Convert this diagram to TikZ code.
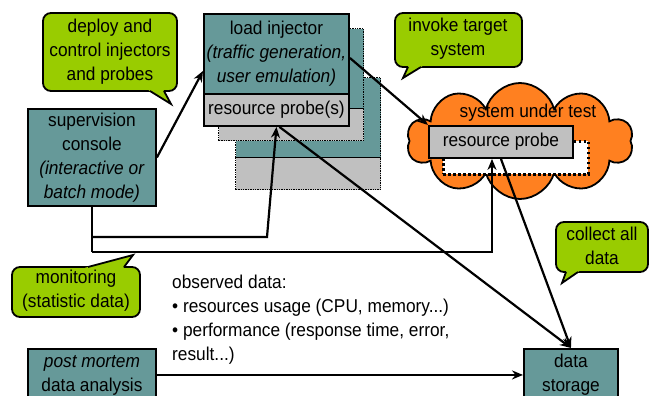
\documentclass[tikz,border=0pt]{standalone}
\usepackage{fontspec}
\setmainfont[FakeStretch=0.93]{Liberation Sans}
\usetikzlibrary{shapes.symbols,arrows.meta,calc}

\definecolor{boxteal}{RGB}{102,153,153}
\definecolor{probegray}{RGB}{192,192,192}
\definecolor{calloutgreen}{RGB}{153,204,0}
\definecolor{sutorange}{RGB}{255,128,32}

% speech bubble: #1,#2 opposite box corners, #3,#4 tail base on the box edge, #5 tail tip
\newcommand{\speechbubble}[5]{%
  \fill[calloutgreen] #3 -- #5 -- #4 -- cycle;
  \draw[bubbleedge] #1 rectangle #2;
  \fill[calloutgreen] ($#3!-3pt!#5$) -- #5 -- ($#4!-3pt!#5$) -- cycle;
  \draw[line width=1.8pt, line join=miter] #3 -- #5 -- #4;
}

\tikzset{
  every node/.style={font=\fontsize{18.6}{24}\selectfont},
  panel/.style={draw, line width=1.9pt, fill=boxteal, inner sep=0pt,
                align=center, anchor=north west},
  probebox/.style={panel, fill=probegray},
  ghost/.style={draw, densely dotted, line width=1.4pt, inner sep=0pt,
                anchor=north west},
  link/.style={line width=2.2pt, -{Stealth[length=11pt,width=9pt]}},
  wire/.style={line width=2.2pt},
  bubbleedge/.style={draw=black, fill=calloutgreen, line width=1.8pt,
                     rounded corners=8pt},
  caption/.style={align=center, inner sep=0pt},
}

\begin{document}
\begin{tikzpicture}[x=1pt, y=-1pt]
\useasboundingbox (0,0) rectangle (649,396);
\clip (0,0) rectangle (649,396);

% system under test
\node[cloud, draw, line width=1.8pt, fill=sutorange, cloud puffs=10,
      aspect=1.9, minimum width=226pt, minimum height=116pt, inner sep=0pt]
      (sut) at (520,141) {};
\node[draw, fill=white, dash pattern=on 2.5pt off 2.5pt, line width=2.8pt,
      anchor=north west, minimum width=145pt, minimum height=33pt,
      inner sep=0pt] (sutghost) at (442,140) {};
\node[probebox, minimum width=144pt, minimum height=32pt] (sutprobe)
      at (428,125) {resource probe};
\node (suttitle) at (528,113) {system under test};

% stacked load injectors
\node[ghost, fill=boxteal, minimum width=145pt, minimum height=80pt] (g2top) at (235,77) {};
\node[ghost, fill=probegray, minimum width=145pt, minimum height=32pt] (g2bot) at (235,157) {};
\node[ghost, fill=boxteal, minimum width=145pt, minimum height=80pt] (g1top) at (218,28) {};
\node[ghost, fill=probegray, minimum width=145pt, minimum height=32pt] (g1bot) at (218,108) {};
\node[panel, minimum width=145pt, minimum height=80pt] (inj) at (203,13)
      {load injector\\\textit{(traffic generation,}\\\textit{user emulation)}};
\node[probebox, minimum width=145pt, minimum height=32pt] (injprobe) at (203,93)
      {resource probe(s)};

% console, analysis and storage
\node[panel, minimum width=128pt, minimum height=97pt] (console) at (27,108)
      {supervision\\console\\\textit{(interactive or}\\\textit{batch mode)}};
\node[panel, minimum width=128pt, minimum height=52pt] (postmortem) at (27,348)
      {\textit{post mortem}\\data analysis};
\node[panel, minimum width=94pt, minimum height=52pt] (storage) at (523,348)
      {data\\storage};

\node[anchor=north west, align=left, inner sep=0pt] (observed) at (172,275)
      {observed data:\\\textbullet{} resources usage (CPU, memory...)\\
       \textbullet{} performance (response time, error,\\result...)};

% connectors
\coordinate (busA) at (console.south |- 0,237);
\coordinate (busAend) at (267,237);
\coordinate (busB) at (console.south |- 0,252);
\coordinate (sutx) at (492,0);

\draw[link] (console.east) -- ([yshift=-17pt]inj.west);
\draw[link] ([yshift=-4pt]inj.east) -- (sutprobe.north west);
\draw[wire] (console.south) -- (busB);
\draw[link] (busB) -- (busB -| sutx) -- (sutprobe.south -| sutx);
\draw[link] (busA) -- (busAend) -- (injprobe.south);
\draw[link] ([xshift=3pt]injprobe.south) -- (storage.north);
\draw[link] (sutprobe.south) -- (storage.north);
\draw[link] (postmortem.east) -- (storage.west);

% callouts
\speechbubble{(43,13)}{(177,91)}{(150,91)}{(164,91)}{(171,104)}
\node[caption] (deploy) at (110,52) {deploy and\\control injectors\\and probes};

\speechbubble{(395,13)}{(522,67)}{(408,67)}{(421,67)}{(403,78)}
\node[caption] (invoke) at (458,39) {invoke target\\system};

\speechbubble{(556,222)}{(648,272)}{(566,272)}{(578,272)}{(562,283)}
\node[caption] (collect) at (602,246) {collect all\\data};

\speechbubble{(12,267)}{(140,317)}{(88,267)}{(124,267)}{(133,255)}
\node[caption] (monitor) at (76,291) {monitoring\\(statistic data)};
\end{tikzpicture}
\end{document}
